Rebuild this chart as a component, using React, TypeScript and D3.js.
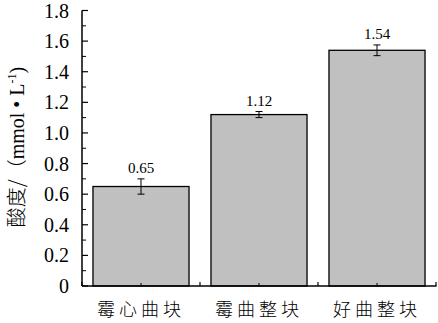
import React from "react";
import * as d3 from "d3";

const categories = ["霉心曲块", "霉曲整块", "好曲整块"];
const values = [0.65, 1.12, 1.54];
const errors = [0.05, 0.02, 0.035];
const valueLabels = ["0.65", "1.12", "1.54"];
const yTicks = [0, 0.2, 0.4, 0.6, 0.8, 1.0, 1.2, 1.4, 1.6, 1.8];
const yTickLabels = ["0", "0.2", "0.4", "0.6", "0.8", "1.0", "1.2", "1.4", "1.6", "1.8"];
const yMinorTicks = [0.1, 0.3, 0.5, 0.7, 0.9, 1.1, 1.3, 1.5, 1.7];

const W = 438;
const H = 323;
const left = 82;
const right = 436;
const top = 10.5;
const bottom = 286;
const serif = "'Liberation Serif', 'Times New Roman', 'Noto Sans CJK SC', serif";
const cjk = "'Noto Sans CJK SC', 'Liberation Serif', sans-serif";

export default function App() {
  const y = d3.scaleLinear().domain([0, 1.8]).range([bottom, top]);
  const x = d3
    .scaleBand<string>()
    .domain(categories)
    .range([left, right])
    .paddingInner(0.186)
    .paddingOuter(0.093);
  const step = x.step();
  const boundaries = categories.map((c) => (x(c) as number) - step * 0.093).concat([right]);

  return (
    <svg width={W} height={H} style={{ position: "absolute", left: 0, top: 0, background: "#fff" }}>
      <rect x={0} y={0} width={W} height={H} fill="#fff" />
      {categories.map((c, i) => {
        const bx = x(c) as number;
        const bw = x.bandwidth();
        const cx = bx + bw / 2;
        const yv = y(values[i]);
        const yHi = y(values[i] + errors[i]);
        const yLo = y(values[i] - errors[i]);
        return (
          <g key={c}>
            <rect x={bx} y={yv} width={bw} height={bottom - yv} fill="#c0c0c0" stroke="#000" strokeWidth={1.3} />
            <line x1={cx} x2={cx} y1={yHi} y2={yLo} stroke="#000" strokeWidth={1} />
            <line x1={cx - 3.5} x2={cx + 3.5} y1={yHi} y2={yHi} stroke="#000" strokeWidth={1} />
            <line x1={cx - 3.5} x2={cx + 3.5} y1={yLo} y2={yLo} stroke="#000" strokeWidth={1} />
            <text x={cx} y={yHi - 6} textAnchor="middle" fontFamily={serif} fontSize={15} fill="#000">
              {valueLabels[i]}
            </text>
            <text
              x={cx}
              y={316}
              textAnchor="middle"
              fontFamily={cjk}
              fontSize={18}
              fontWeight={300}
              letterSpacing={4}
              fill="#000"
            >
              {c}
            </text>
          </g>
        );
      })}
      <line x1={left} x2={right + 0.5} y1={bottom} y2={bottom} stroke="#000" strokeWidth={1.5} />
      {boundaries.map((b, i) => (
        <line key={"xb" + i} x1={b} x2={b} y1={bottom} y2={bottom - 4} stroke="#000" strokeWidth={1.2} />
      ))}
      {categories.map((c) => {
        const cx = (x(c) as number) + x.bandwidth() / 2;
        return <line key={"xm" + c} x1={cx} x2={cx} y1={bottom} y2={bottom - 3} stroke="#000" strokeWidth={1} />;
      })}
      <line x1={left} x2={left} y1={top} y2={bottom} stroke="#000" strokeWidth={1.5} />
      {yTicks.map((t, i) => (
        <g key={"yt" + i}>
          <line x1={left} x2={left + 6} y1={y(t)} y2={y(t)} stroke="#000" strokeWidth={1.2} />
          <text x={69} y={y(t)} dy="0.35em" textAnchor="end" fontFamily={serif} fontSize={20} fill="#000">
            {yTickLabels[i]}
          </text>
        </g>
      ))}
      {yMinorTicks.map((t, i) => (
        <line key={"ym" + i} x1={left} x2={left + 4} y1={y(t)} y2={y(t)} stroke="#000" strokeWidth={1} />
      ))}
      <text
        transform="translate(24,147) rotate(-90)"
        textAnchor="middle"
        fontFamily={serif}
        fontSize={20}
        fill="#000"
      >
        <tspan fontFamily={cjk} fontWeight={300}>酸度/</tspan>
        <tspan fontFamily={cjk} fontWeight={300}>（</tspan>
        <tspan>mmol • L</tspan>
        <tspan fontSize={12} dy={-8}>-1</tspan>
        <tspan dy={8}>)</tspan>
      </text>
    </svg>
  );
}
